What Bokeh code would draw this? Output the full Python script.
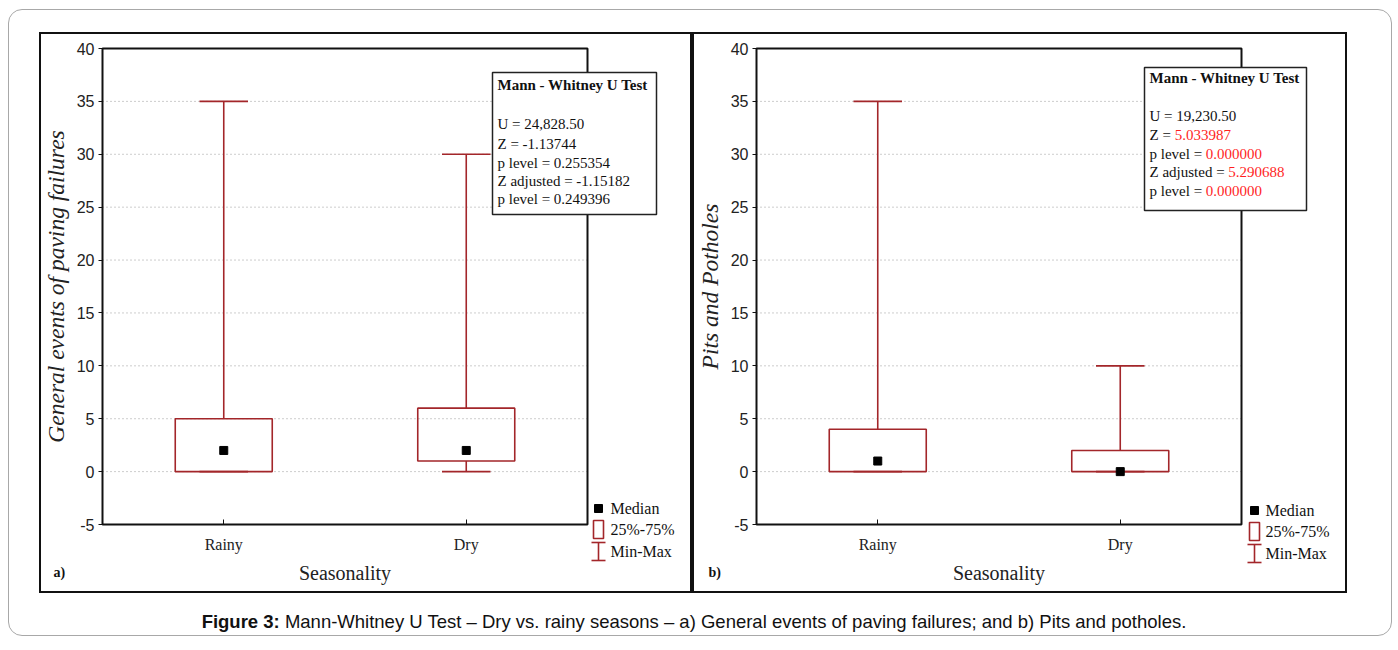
from bokeh.plotting import figure
from bokeh.models import (ColumnDataSource, Range1d, Label, BoxAnnotation,
                          FixedTicker, Div, Arrow, TeeHead)
from bokeh.transform import dodge
from bokeh.layouts import row, column
from bokeh.embed import file_html
from bokeh.resources import INLINE

# ---------------- data ----------------
categories = ["Rainy", "Dry"]

a_min = [0, 0]
a_q1 = [0, 1]
a_median = [2, 2]
a_q3 = [5, 6]
a_max = [35, 30]

b_min = [0, 0]
b_q1 = [0, 0]
b_median = [1, 0]
b_q3 = [4, 2]
b_max = [35, 10]

y_ticks = [-5, 0, 5, 10, 15, 20, 25, 30, 35, 40]
grid_ticks = [0, 5, 10, 15, 20, 25, 30, 35]

stats_title = "Mann - Whitney U Test"
a_stats_black = ["U = 24,828.50", "Z = -1.13744", "p level = 0.255354",
                 "Z adjusted = -1.15182", "p level = 0.249396"]
a_stats_red = ["", "", "", "", ""]
b_stats_black = ["U = 19,230.50", "Z = ", "p level = ", "Z adjusted = ", "p level = "]
b_stats_red = ["", "5.033987", "0.000000", "5.290688", "0.000000"]

legend_labels = ["Median", "25%-75%", "Min-Max"]
x_title = "Seasonality"
a_y_title = "General events of paving failures"
b_y_title = "Pits and Potholes"
caption_bold = "Figure 3:"
caption_rest = (" Mann-Whitney U Test \u2013 Dry vs. rainy seasons \u2013 a) General events of "
                "paving failures; and b) Pits and potholes.")

# ---------------- style / layout ----------------
RED = "#A3262A"
BRIGHT_RED = "#FF1F1F"
SERIF = "Liberation Serif"
SANS = "Liberation Sans"

Y_LO, Y_HI = y_ticks[0], y_ticks[-1]
X_LO, X_HI = 0.0, float(len(categories))

PANEL_TOP = 32
PANEL_H = 561
FT = 48           # plot box top (absolute px)
FH = 476          # plot box height
FW = 485          # plot box width

TIMES_W = {'Z': 611, ' ': 250, '=': 564, 'p': 500, 'l': 278, 'e': 444, 'v': 500,
           'a': 444, 'd': 500, 'j': 278, 'u': 500, 's': 389, 't': 278, 'U': 722}


def text_width(s, size):
    return sum(TIMES_W.get(c, 500) for c in s) / 1000.0 * size


def make_panel(panel_left, panel_w, plot_left, q1, q3, med, mn, mx, ytitle, tag, tag_x,
               box_px, stats_lines_y, stats_black, stats_red, legend_px):
    ppx = FW / (X_HI - X_LO)
    ppy = FH / (Y_HI - Y_LO)

    def dx(px, off=0.0):
        return X_LO + (px + off - plot_left) / ppx

    def dy(py):
        return Y_HI - (py - FT) / ppy

    p = figure(width=panel_w, height=PANEL_H,
               x_range=Range1d(dx(panel_left), dx(panel_left + panel_w)),
               y_range=Range1d(dy(PANEL_TOP + PANEL_H), dy(PANEL_TOP)),
               output_backend="svg", toolbar_location=None, min_border=0,
               outline_line_color="#111", outline_line_width=3, outline_line_alpha=1.0,
               background_fill_color="white", border_fill_color="white")
    p.xgrid.visible = False
    p.ygrid.visible = False

    # y axis (fixed on the left edge of the plot box)
    ya = p.yaxis[0]
    ya.fixed_location = X_LO
    ya.bounds = (Y_LO, Y_HI)
    ya.ticker = FixedTicker(ticks=y_ticks)
    ya.major_label_overrides = {t: str(t) for t in y_ticks}
    ya.axis_line_color = None
    ya.minor_tick_line_color = None
    ya.major_tick_in = 0
    ya.major_tick_out = 4
    ya.major_tick_line_color = "#111"
    ya.major_label_text_font = SANS
    ya.major_label_text_font_size = "16px"
    ya.major_label_text_color = "#222"
    ya.major_label_standoff = 4
    ya.axis_label = ytitle
    ya.axis_label_text_font = SERIF
    ya.axis_label_text_font_style = "italic"
    ya.axis_label_text_font_size = "23.5px"
    ya.axis_label_text_color = "#222"
    ya.axis_label_standoff = 5

    # x axis (fixed on the bottom edge of the plot box)
    positions = [i + 0.5 for i in range(len(categories))]
    xa = p.xaxis[0]
    xa.fixed_location = Y_LO
    xa.bounds = (X_LO, X_HI)
    xa.ticker = FixedTicker(ticks=positions)
    xa.major_label_overrides = {pos: c for pos, c in zip(positions, categories)}
    xa.axis_line_color = None
    xa.minor_tick_line_color = None
    xa.major_tick_in = 5
    xa.major_tick_out = 0
    xa.major_tick_line_color = "#111"
    xa.major_label_text_font = SERIF
    xa.major_label_text_font_size = "16px"
    xa.major_label_text_color = "#222"
    xa.major_label_standoff = 11
    xa.axis_label = x_title
    xa.axis_label_text_font = SERIF
    xa.axis_label_text_font_style = "normal"
    xa.axis_label_text_font_size = "20px"
    xa.axis_label_text_color = "#222"
    xa.axis_label_standoff = 6

    # dotted horizontal grid inside the plot box
    p.segment(x0=X_LO, y0=grid_ticks, x1=X_HI, y1=grid_ticks,
              line_color="#9a9a9a", line_dash="1 3", line_width=1)

    # plot box
    p.add_layout(BoxAnnotation(left=X_LO, right=X_HI, bottom=Y_LO, top=Y_HI,
                               fill_alpha=0.0, line_color="#111", line_alpha=1.0,
                               line_width=2))

    src = ColumnDataSource(dict(pos=positions, q1=q1, q3=q3, med=med, mn=mn, mx=mx))
    p.segment(x0="pos", y0="q3", x1="pos", y1="mx", source=src, line_color=RED, line_width=1.6)
    p.segment(x0="pos", y0="q1", x1="pos", y1="mn", source=src, line_color=RED, line_width=1.6)
    p.segment(x0=dodge("pos", -0.1), y0="mx", x1=dodge("pos", 0.1), y1="mx",
              source=src, line_color=RED, line_width=1.6)
    p.segment(x0=dodge("pos", -0.1), y0="mn", x1=dodge("pos", 0.1), y1="mn",
              source=src, line_color=RED, line_width=1.6)
    p.vbar(x="pos", bottom="q1", top="q3", width=0.4, source=src,
           fill_color=None, line_color=RED, line_width=1.6)
    p.scatter(x="pos", y="med", source=src, marker="square", size=8,
              fill_color="black", line_color="black")

    # statistics box
    bl, br, bt, bb = box_px
    p.add_layout(BoxAnnotation(left=dx(bl), right=dx(br), top=dy(bt), bottom=dy(bb),
                               fill_color="white", fill_alpha=1.0, line_color="#222",
                               line_alpha=1.0, line_width=1.5, level="overlay"))
    tx = bl + 5
    p.add_layout(Label(x=dx(tx), y=dy(stats_lines_y[0]), text=stats_title,
                       text_font=SERIF, text_font_style="bold", text_font_size="15px",
                       text_baseline="middle", text_align="left", text_color="#111",
                       level="overlay"))
    for yy, blk, rd in zip(stats_lines_y[1:], stats_black, stats_red):
        p.add_layout(Label(x=dx(tx), y=dy(yy), text=blk, text_font=SERIF,
                           text_font_size="15px", text_baseline="middle",
                           text_align="left", text_color="#111", level="overlay"))
        if rd:
            p.add_layout(Label(x=dx(tx, text_width(blk, 15)), y=dy(yy), text=rd,
                               text_font=SERIF, text_font_size="15px",
                               text_baseline="middle", text_align="left",
                               text_color=BRIGHT_RED, level="overlay"))

    # legend
    mx_px, text_px, ys = legend_px
    p.add_layout(BoxAnnotation(left=dx(mx_px - 4), right=dx(mx_px + 4),
                               top=dy(ys[0] - 4), bottom=dy(ys[0] + 4),
                               fill_color="black", fill_alpha=1.0, line_color="black",
                               line_alpha=1.0, level="overlay"))
    p.add_layout(BoxAnnotation(left=dx(mx_px - 5), right=dx(mx_px + 5),
                               top=dy(ys[1] - 9), bottom=dy(ys[1] + 9),
                               fill_alpha=0.0, line_color=RED, line_alpha=1.0,
                               line_width=1.6, level="overlay"))
    p.add_layout(Arrow(x_start=dx(mx_px), y_start=dy(ys[2] - 9),
                       x_end=dx(mx_px), y_end=dy(ys[2] + 9),
                       start=TeeHead(size=14, line_color=RED, line_width=1.6),
                       end=TeeHead(size=14, line_color=RED, line_width=1.6),
                       line_color=RED, line_width=1.6, level="overlay"))
    for yy, lab in zip(ys, legend_labels):
        p.add_layout(Label(x=dx(text_px), y=dy(yy), text=lab, text_font=SERIF,
                           text_font_size="16px", text_baseline="middle",
                           text_align="left", text_color="#111", level="overlay"))

    p.add_layout(Label(x=dx(tag_x), y=dy(572), text=tag, text_font=SERIF,
                       text_font_style="bold", text_font_size="14px",
                       text_baseline="middle", text_align="left", text_color="#111",
                       level="overlay"))
    return p


pa = make_panel(39, 653, 102, a_q1, a_q3, a_median, a_min, a_max, a_y_title, "a)", 53,
                (492, 656, 72, 214), [84, 123, 143, 162, 180, 198],
                a_stats_black, a_stats_red, (598, 610, [508, 529, 551]))
pb = make_panel(692, 655, 756, b_q1, b_q3, b_median, b_min, b_max, b_y_title, "b)", 708,
                (1144, 1306, 67, 210), [77, 115, 134, 153, 171, 190],
                b_stats_black, b_stats_red, (1254, 1265, [510, 531, 553]))

panels = row(pa, pb, margin=(22, 0, 0, 30))
caption = Div(text=f"<b>{caption_bold}</b>{caption_rest}", width=1370, height=26,
              margin=(16, 0, 0, 0),
              styles={"text-align": "center",
                      "font-family": "'Liberation Sans', Arial, sans-serif",
                      "font-size": "18.5px", "color": "#111"})
page = column(panels, caption, width=1384, margin=(9, 0, 0, 8),
              styles={"border": "1px solid #a8a8a8", "border-radius": "14px"})

open("out.html", "w").write(file_html(page, INLINE))
